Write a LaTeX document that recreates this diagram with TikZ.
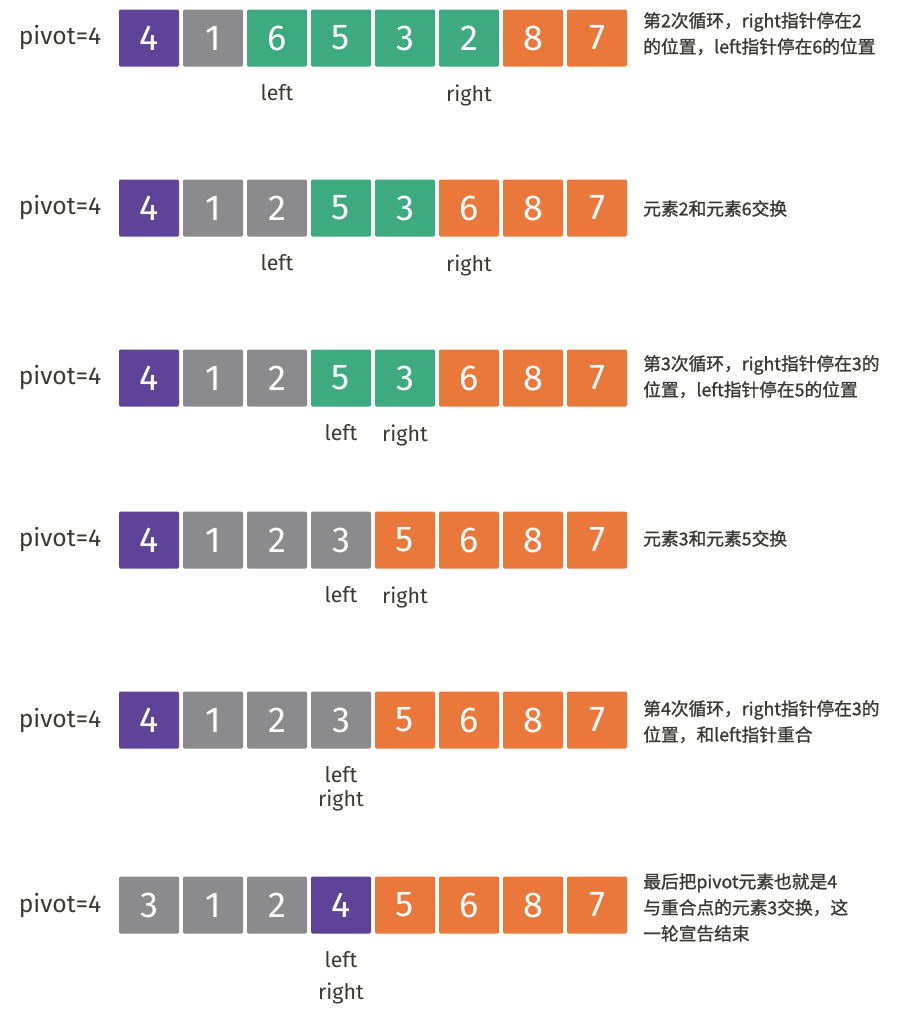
\documentclass[tikz,border=0pt]{standalone}
\usepackage{fontspec}
\setmainfont{Fira Sans}
\newfontfamily\cjk[FakeBold=1.2]{Noto Sans CJK SC}
\usetikzlibrary{positioning}
\definecolor{pivotcol}{HTML}{5E4398}
\definecolor{donecol}{HTML}{8B8B8D}
\definecolor{opencol}{HTML}{3DAA80}
\definecolor{bigcol}{HTML}{E9783A}
\definecolor{inkcol}{HTML}{3A3A34}
\tikzset{
x=0.75pt, y=-0.75pt, % one unit is one pixel of the reference
cell/.style={minimum width=45pt, minimum height=42.75pt, inner sep=0pt, rounded corners=1pt, text=white, font=\fontsize{27}{27}\selectfont}, % one box of the array
pivotlabel/.style={text=inkcol, font=\fontsize{18.5}{18.5}\selectfont},
ptr/.style={text=inkcol, inner sep=0pt, font=\fontsize{16}{16}\selectfont}, % the left / right pointers
note/.style={anchor=north west, align=left, text=inkcol, inner sep=0pt, font=\cjk\fontsize{13.3}{19.5}\selectfont},
}
% one row: name, y of its centre, list of value/colour
\newcommand{\cellrow}[3]{%
  \node[pivotlabel] (p#1) at (60,#2) {pivot=4};
  \foreach \v/\c [count=\i] in {#3}
    \node[cell, fill=\c] (r#1c\i) at ({149+64*(\i-1)},#2) {\v};
}

\begin{document}
\begin{tikzpicture}
    \useasboundingbox[fill=white] (0,0) rectangle (924,1017);
    \cellrow{1}{38}{4/pivotcol,1/donecol,6/opencol,5/opencol,3/opencol,2/opencol,8/bigcol,7/bigcol}
    \cellrow{2}{208}{4/pivotcol,1/donecol,2/donecol,5/opencol,3/opencol,6/bigcol,8/bigcol,7/bigcol}
    \cellrow{3}{378}{4/pivotcol,1/donecol,2/donecol,5/opencol,3/opencol,6/bigcol,8/bigcol,7/bigcol}
    \cellrow{4}{540}{4/pivotcol,1/donecol,2/donecol,3/donecol,5/bigcol,6/bigcol,8/bigcol,7/bigcol}
    \cellrow{5}{720}{4/pivotcol,1/donecol,2/donecol,3/donecol,5/bigcol,6/bigcol,8/bigcol,7/bigcol}
    \cellrow{6}{905}{3/donecol,1/donecol,2/donecol,4/pivotcol,5/bigcol,6/bigcol,8/bigcol,7/bigcol}

    % pointers under the boxes
    \node[ptr, below=13pt of r1c3] (left1) {left};
    \node[ptr, below=13pt of r1c6] (right1) {right};
    \node[ptr, below=13pt of r2c3] (left2) {left};
    \node[ptr, below=13pt of r2c6] (right2) {right};
    \node[ptr, below=13pt of r3c4] (left3) {left};
    \node[ptr, below=13pt of r3c5] (right3) {right};
    \node[ptr, below=13pt of r4c4] (left4) {left};
    \node[ptr, below=13pt of r4c5] (right4) {right};
    \node[ptr, below=13pt of r5c4] (left5) {left};
    \node[ptr, below=5pt of left5] (right5) {right};
    \node[ptr, below=13pt of r6c4] (left6) {left};
    \node[ptr, below=11pt of left6] (right6) {right};

    % notes on the right
    \node[note] (n1) at (643,12) {第2次循环，right指针停在2\\的位置，left指针停在6的位置};
    \node[note] (n2) at (643,200) {元素2和元素6交换};
    \node[note] (n3) at (643,355) {第3次循环，right指针停在3的\\位置，left指针停在5的位置};
    \node[note] (n4) at (643,530) {元素3和元素5交换};
    \node[note] (n5) at (643,700) {第4次循环，right指针停在3的\\位置，和left指针重合};
    \node[note] (n6) at (643,873) {最后把pivot元素也就是4\\与重合点的元素3交换，这\\一轮宣告结束};
\end{tikzpicture}
\end{document}
